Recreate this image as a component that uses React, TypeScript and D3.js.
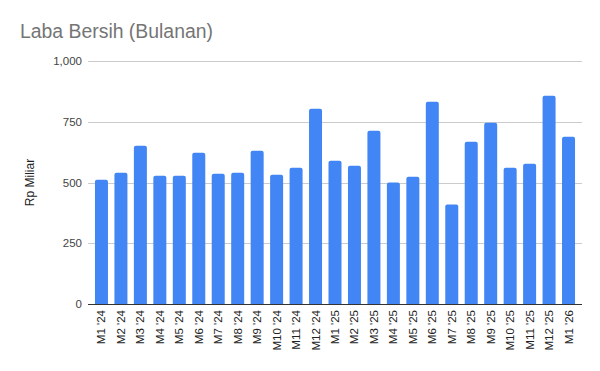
import React, { useRef, useEffect } from "react";
import * as d3 from "d3";

const months = [
  "M1 '24", "M2 '24", "M3 '24", "M4 '24", "M5 '24", "M6 '24", "M7 '24", "M8 '24",
  "M9 '24", "M10 '24", "M11 '24", "M12 '24", "M1 '25", "M2 '25", "M3 '25", "M4 '25",
  "M5 '25", "M6 '25", "M7 '25", "M8 '25", "M9 '25", "M10 '25", "M11 '25", "M12 '25", "M1 '26",
];
const labaBersih = [
  511, 540, 651, 528, 528, 622, 536, 540, 631, 532, 561, 804, 590,
  569, 713, 500, 524, 832, 409, 668, 746, 561, 577, 857, 688,
];
const yTicks = [0, 250, 500, 750, 1000];

const App = () => {
  const container = useRef<SVGSVGElement>(null);

  const width = 600;
  const height = 371;
  const margin = { top: 61, right: 18, bottom: 67, left: 88 };

  useEffect(() => {
    const svg = d3.select(container.current);
    svg.selectAll("*").remove();

    const x = d3
      .scaleBand()
      .domain(months)
      .range([margin.left, width - margin.right])
      .paddingInner(0.332)
      .paddingOuter(0.358);

    const y = d3
      .scaleLinear()
      .domain([0, 1000])
      .range([height - margin.bottom, margin.top]);

    // title
    svg
      .append("text")
      .attr("x", 20)
      .attr("y", 38)
      .style("font-family", "'Liberation Sans', Arial, sans-serif")
      .style("font-size", "19.4px")
      .style("fill", "#757575")
      .text("Laba Bersih (Bulanan)");

    // gridlines + y labels
    const yAxis = svg.append("g");
    yAxis
      .selectAll("line")
      .data(yTicks.filter(d => d > 0))
      .enter()
      .append("line")
      .attr("x1", margin.left)
      .attr("x2", width - margin.right)
      .attr("y1", d => Math.round(y(d)) + 0.5)
      .attr("y2", d => Math.round(y(d)) + 0.5)
      .attr("stroke", "#cccccc");

    yAxis
      .selectAll("text")
      .data(yTicks)
      .enter()
      .append("text")
      .attr("x", margin.left - 6)
      .attr("y", d => y(d) + 4)
      .attr("text-anchor", "end")
      .style("font-family", "'Liberation Sans', Arial, sans-serif")
      .style("font-size", "11.5px")
      .style("fill", "#444")
      .text(d => d3.format(",")(d));

    // axis title
    svg
      .append("text")
      .attr("transform", `translate(34, ${(y(0) + y(1000)) / 2}) rotate(-90)`)
      .attr("text-anchor", "middle")
      .style("font-family", "'Liberation Sans', Arial, sans-serif")
      .style("font-size", "12px")
      .style("fill", "#222")
      .text("Rp Miliar");

    // bars, slightly rounded top
    const r = 2;
    svg
      .append("g")
      .selectAll("path")
      .data(labaBersih)
      .enter()
      .append("path")
      .attr("fill", "#4285f4")
      .attr("d", (d, i) => {
        const x0 = x(months[i])!;
        const w = x.bandwidth();
        const y0 = y(d);
        const yb = y(0);
        return `M${x0},${yb}V${y0 + r}Q${x0},${y0} ${x0 + r},${y0}H${x0 + w - r}Q${x0 + w},${y0} ${x0 + w},${y0 + r}V${yb}Z`;
      });

    // baseline
    svg
      .append("line")
      .attr("x1", margin.left)
      .attr("x2", width - margin.right)
      .attr("y1", Math.round(y(0)) + 0.5)
      .attr("y2", Math.round(y(0)) + 0.5)
      .attr("stroke", "#333");

    // x labels
    svg
      .append("g")
      .selectAll("text")
      .data(months)
      .enter()
      .append("text")
      .attr("transform", d => `translate(${x(d)! + x.bandwidth() / 2 + 4}, ${y(0) + 6}) rotate(-90)`)
      .attr("text-anchor", "end")
      .style("font-family", "'Liberation Sans', Arial, sans-serif")
      .style("font-size", "11.5px")
      .style("fill", "#222")
      .text(d => d);
  }, []);

  return (
    <svg
      ref={container}
      width={width}
      height={height}
      style={{ position: "absolute", left: 0, top: 0, background: "#fff" }}
    />
  );
};

export default App;
